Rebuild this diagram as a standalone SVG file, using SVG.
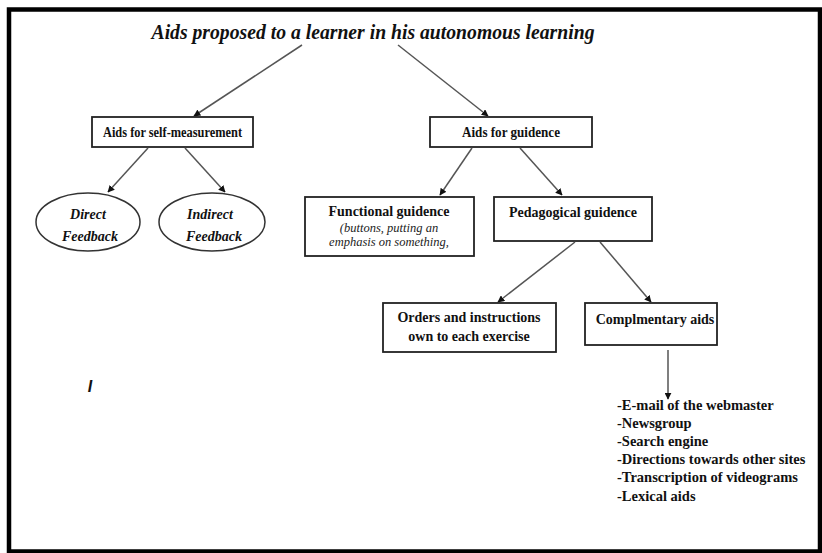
<svg xmlns="http://www.w3.org/2000/svg" width="822" height="553" viewBox="0 0 822 553">
<defs>
<marker id="ah" viewBox="0 0 10 10" refX="9" refY="5" markerWidth="7" markerHeight="7" orient="auto" markerUnits="userSpaceOnUse">
<path d="M0,0 L10,5 L0,10 z" fill="#111"/>
</marker>
<style>
.box{fill:#fff;stroke:#222;stroke-width:1.8}
.ell{fill:#fff;stroke:#333;stroke-width:1.5}
.lbl{font-family:"Liberation Serif","Times New Roman",serif;font-weight:bold;font-size:14px;fill:#111;text-anchor:middle}
.it{font-family:"Liberation Serif","Times New Roman",serif;font-style:italic;font-size:12.5px;fill:#222;text-anchor:middle}
.bi{font-family:"Liberation Serif","Times New Roman",serif;font-style:italic;font-weight:bold;font-size:14px;fill:#111;text-anchor:middle}
.list{font-family:"Liberation Serif","Times New Roman",serif;font-weight:bold;font-size:14.5px;fill:#111}
.con line{stroke:#555;stroke-width:1.5;marker-end:url(#ah)}
</style>
</defs>
<rect x="0" y="0" width="822" height="553" fill="#fff"/>
<rect x="9" y="9.5" width="811" height="542" fill="none" stroke="#000" stroke-width="4.5"/>

<g id="title">
<text x="373" y="39" font-family="'Liberation Serif','Times New Roman',serif" font-style="italic" font-weight="bold" font-size="21" text-anchor="middle" textLength="443" lengthAdjust="spacingAndGlyphs" fill="#111">Aids proposed to a learner in his autonomous learning</text>
</g>

<g id="self-measurement">
<rect class="box" x="92" y="117" width="161" height="30"/>
<text class="lbl" x="172.5" y="137" textLength="139" lengthAdjust="spacingAndGlyphs">Aids for self-measurement</text>
</g>
<g id="guidence">
<rect class="box" x="430" y="117" width="162" height="30"/>
<text class="lbl" x="511" y="137" textLength="98" lengthAdjust="spacingAndGlyphs">Aids for guidence</text>
</g>
<g id="direct-feedback">
<ellipse class="ell" cx="88" cy="222" rx="52" ry="29"/>
<text class="bi" x="88" y="219">Direct</text>
<text class="bi" x="90" y="241">Feedback</text>
</g>
<g id="indirect-feedback">
<ellipse class="ell" cx="212" cy="222" rx="53" ry="29"/>
<text class="bi" x="210" y="219">Indirect</text>
<text class="bi" x="214" y="241">Feedback</text>
</g>
<g id="functional-guidence">
<rect class="box" x="305" y="197" width="169" height="59"/>
<text class="lbl" x="389" y="216">Functional guidence</text>
<text class="it" x="389" y="232">(buttons, putting an</text>
<text class="it" x="389" y="246">emphasis on something,</text>
</g>
<g id="pedagogical-guidence">
<rect class="box" x="494" y="197" width="158" height="44"/>
<text class="lbl" x="573" y="217">Pedagogical guidence</text>
</g>
<g id="orders">
<rect class="box" x="383" y="303" width="173" height="49"/>
<text class="lbl" x="469" y="322">Orders and instructions</text>
<text class="lbl" x="469" y="341">own to each exercise</text>
</g>
<g id="complementary">
<rect class="box" x="585" y="303" width="132" height="42"/>
<text class="lbl" x="655" y="324">Complmentary aids</text>
</g>
<g id="aids-list">
<text class="list" x="617" y="410">-E-mail of the webmaster</text>
<text class="list" x="617" y="428">-Newsgroup</text>
<text class="list" x="617" y="446">-Search engine</text>
<text class="list" x="617" y="464">-Directions towards other sites</text>
<text class="list" x="617" y="482">-Transcription of videograms</text>
<text class="list" x="617" y="501">-Lexical aids</text>
</g>
<g id="mark">
<text x="90" y="392" font-family="'Liberation Sans',Arial,sans-serif" font-style="italic" font-weight="bold" font-size="16" text-anchor="middle" fill="#111">I</text>
</g>

<g id="connectors" class="con">
<line x1="302" y1="45" x2="194" y2="116"/>
<line x1="398" y1="45" x2="488" y2="116"/>
<line x1="148" y1="148" x2="108" y2="192"/>
<line x1="185" y1="148" x2="225" y2="192"/>
<line x1="472" y1="148" x2="440" y2="195"/>
<line x1="520" y1="148" x2="562" y2="195"/>
<line x1="575" y1="242" x2="498" y2="302"/>
<line x1="600" y1="242" x2="651" y2="302"/>
<line x1="668" y1="350" x2="668" y2="399"/>
</g>
</svg>
